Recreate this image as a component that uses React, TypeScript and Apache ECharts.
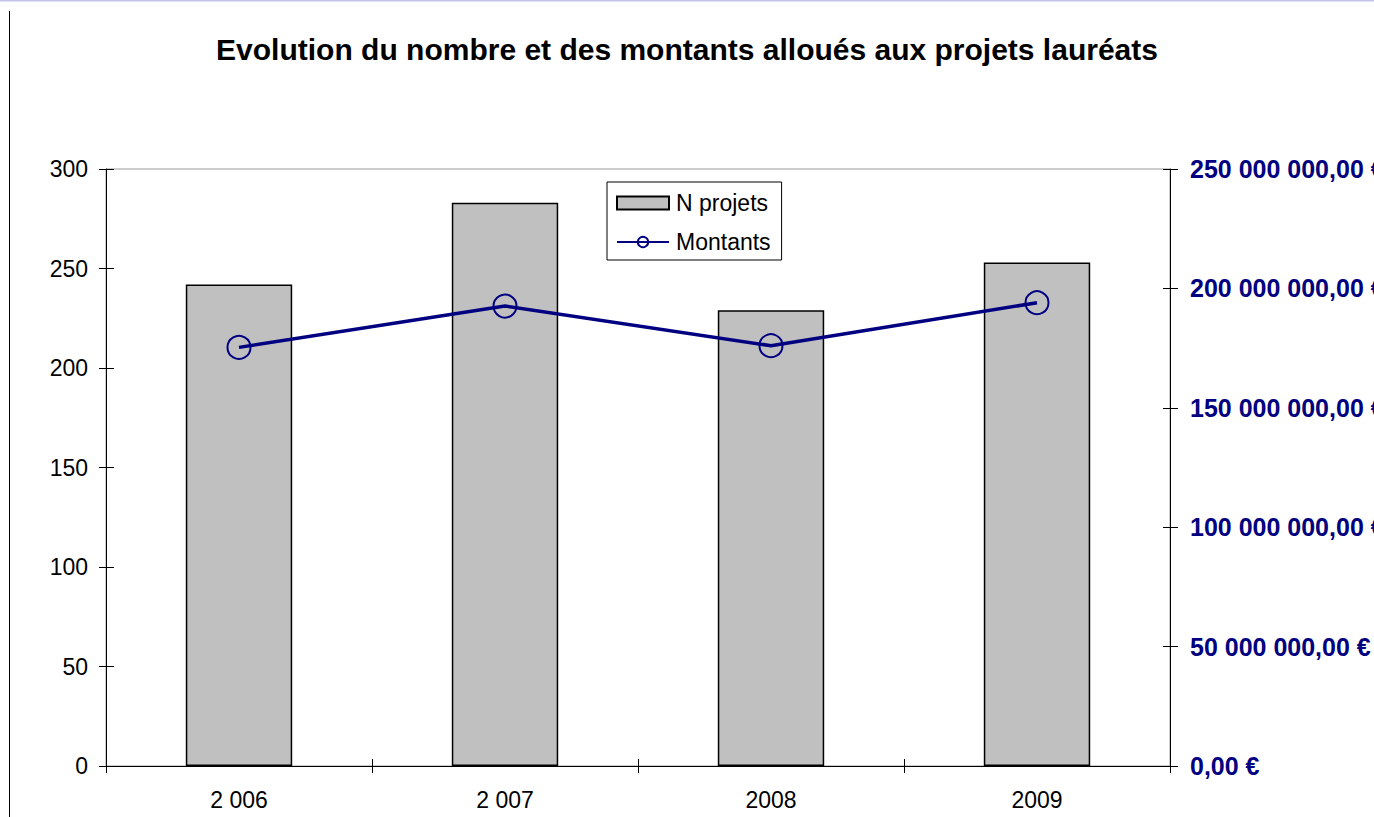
import React, { useEffect, useRef } from "react";
import * as echarts from "echarts";

const categories = ["2 006", "2 007", "2008", "2009"];
const nProjets = [242, 283, 229, 253];
const montants = [175300000, 192600000, 176000000, 194000000];
const leftTicks = { min: 0, max: 300, interval: 50 };
const rightTicks = { min: 0, max: 250000000, interval: 50000000 };

function formatEuro(v: number): string {
  const s = Math.round(v).toString().replace(/\B(?=(\d{3})+(?!\d))/g, " ");
  return s + ",00 €";
}

export default function App() {
  const ref = useRef<HTMLDivElement>(null);
  useEffect(() => {
    if (!ref.current) return;
    const chart = echarts.init(ref.current, null, { renderer: "svg" });
    const font = "'Liberation Sans', Arial, sans-serif";
    chart.setOption({
      animation: false,
      backgroundColor: "#ffffff",
      textStyle: { fontFamily: font },
      title: {
        text: "Evolution du nombre et des montants alloués aux projets lauréats",
        left: "center",
        top: 29,
        textStyle: { fontSize: 30, fontWeight: "bold", color: "#000", fontFamily: font },
      },
      grid: {
        left: 106,
        right: 204,
        top: 169,
        bottom: 51,
        containLabel: false,
        outerBoundsMode: "none",
        show: true,
        borderColor: "#9a9a9a",
        borderWidth: 1,
        backgroundColor: "transparent",
      },
      legend: {
        orient: "vertical",
        left: 607,
        top: 182,
        padding: [8, 11, 5, 9],
        itemGap: 13,
        itemWidth: 52,
        itemHeight: 13,
        borderColor: "#000",
        borderWidth: 1,
        backgroundColor: "#fff",
        textStyle: { fontSize: 23, color: "#000", fontFamily: font, lineHeight: 26, padding: [0, 0, 0, 2] },
        data: [
          { name: "N projets", icon: "rect" },
          { name: "Montants" },
        ],
      },
      xAxis: [
        {
          type: "category",
          data: categories,
          position: "bottom",
          axisLine: { lineStyle: { color: "#000", width: 1 } },
          axisTick: { show: true, interval: 0, length: 7, lineStyle: { color: "#000" } },
          axisLabel: { fontSize: 23, color: "#000", margin: 22, fontFamily: font },
          splitLine: { show: false },
        },
        {
          type: "category",
          data: categories,
          position: "bottom",
          axisLine: { show: false },
          axisTick: { show: true, inside: true, interval: 0, length: 7, lineStyle: { color: "#000" } },
          axisLabel: { show: false },
          splitLine: { show: false },
        },
      ],
      yAxis: [
        {
          type: "value",
          position: "left",
          ...leftTicks,
          axisLine: { show: true, lineStyle: { color: "#000" } },
          axisTick: { show: true, length: 7, lineStyle: { color: "#000" } },
          axisLabel: { fontSize: 23, color: "#000", margin: 18, fontFamily: font },
          splitLine: { show: false },
        },
        {
          type: "value",
          position: "right",
          ...rightTicks,
          axisLine: { show: true, lineStyle: { color: "#000" } },
          axisTick: { show: true, length: 8, lineStyle: { color: "#000" } },
          axisLabel: {
            fontSize: 25,
            fontWeight: "bold",
            color: "#000080",
            margin: 20,
            fontFamily: font,
            formatter: (v: number) => formatEuro(v),
          },
          splitLine: { show: false },
        },
        {
          type: "value",
          position: "left",
          ...leftTicks,
          axisLine: { show: false },
          axisTick: { show: true, inside: true, length: 8, lineStyle: { color: "#000" } },
          axisLabel: { show: false },
          splitLine: { show: false },
        },
        {
          type: "value",
          position: "right",
          ...rightTicks,
          axisLine: { show: false },
          axisTick: { show: true, inside: true, length: 7, lineStyle: { color: "#000" } },
          axisLabel: { show: false },
          splitLine: { show: false },
        },
      ],
      series: [
        {
          name: "N projets",
          type: "bar",
          xAxisIndex: 0,
          yAxisIndex: 0,
          data: nProjets,
          barWidth: "40%",
          itemStyle: { color: "#c0c0c0", borderColor: "#000", borderWidth: 1.5 },
        },
        {
          name: "Montants",
          type: "line",
          xAxisIndex: 0,
          yAxisIndex: 1,
          data: montants,
          symbol: "circle",
          symbolSize: 23,
          lineStyle: { color: "#000080", width: 3.5 },
          itemStyle: { color: "rgba(0,0,0,0)", borderColor: "#000080", borderWidth: 2 },
          z: 5,
        },
      ],
      graphic: [
        {
          type: "line",
          shape: { x1: 0, y1: 0.5, x2: 1374, y2: 0.5 },
          style: { stroke: "#c4c4e8", lineWidth: 2 },
        },
        {
          type: "line",
          shape: { x1: 9.5, y1: 11, x2: 9.5, y2: 817 },
          style: { stroke: "#000", lineWidth: 1 },
        },
      ],
    });
    return () => chart.dispose();
  }, []);
  return (
    <div
      ref={ref}
      style={{ position: "absolute", left: 0, top: 0, width: 1374, height: 817 }}
    />
  );
}
